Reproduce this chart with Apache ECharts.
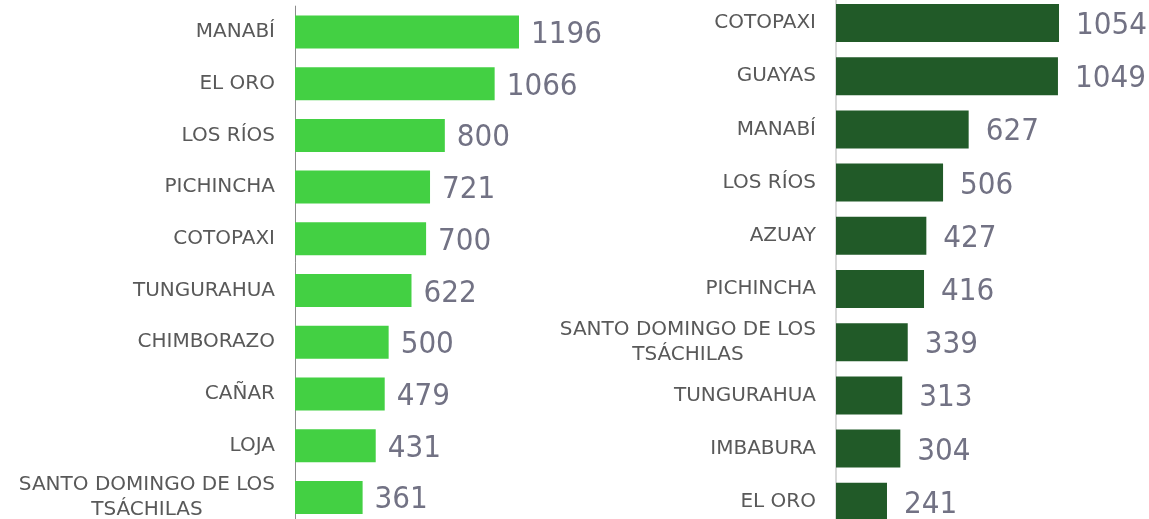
<!DOCTYPE html>
<html>
<head>
<meta charset="utf-8">
<script src="https://cdn.jsdelivr.net/npm/echarts@6/dist/echarts.min.js"></script>
<style>
    html, body { margin: 0; padding: 0; background: #fff; }
    #chart { width: 1149px; height: 519px; }
</style>
</head>
<body>
<div id="chart"></div>
<script>
    // left chart (light green)
    let left_labels = ['MANABÍ', 'EL ORO', 'LOS RÍOS', 'PICHINCHA', 'COTOPAXI', 'TUNGURAHUA',
        'CHIMBORAZO', 'CAÑAR', 'LOJA', 'SANTO DOMINGO DE LOS\nTSÁCHILAS'];
    let left_values = [1196, 1066, 800, 721, 700, 622, 500, 479, 431, 361];

    // right chart (dark green)
    let right_labels = ['COTOPAXI', 'GUAYAS', 'MANABÍ', 'LOS RÍOS', 'AZUAY', 'PICHINCHA',
        'SANTO DOMINGO DE LOS\nTSÁCHILAS', 'TUNGURAHUA', 'IMBABURA', 'EL ORO'];
    let right_values = [1054, 1049, 627, 506, 427, 416, 339, 313, 304, 241];

    let label_font = "'DejaVu Sans', sans-serif";
    let value_font = "'DejaVu Sans Condensed', 'Liberation Sans', sans-serif";

    // every line centred inside the right aligned block
    function centred_label(value){
        return value.split('\n').map(function(line){
            return '{c|' + line + '}';
        }).join('\n');
    }

    function category_axis(index, labels, line_color, line_width){
        return {
            type: 'category',
            gridIndex: index,
            data: labels,
            inverse: true,
            axisTick: {show: false},
            axisLine: {lineStyle: {color: line_color, width: line_width}},
            axisLabel: {
                margin: 20,
                formatter: centred_label,
                rich: {
                    c: {
                        align: 'center',
                        fontFamily: label_font,
                        fontSize: 20,
                        color: '#595959',
                        lineHeight: 25
                    }
                }
            }
        };
    }

    function bar_series(index, values, color, bar_width, distance){
        return {
            type: 'bar',
            xAxisIndex: index,
            yAxisIndex: index,
            data: values,
            barWidth: bar_width,
            itemStyle: {color: color},
            label: {
                show: true,
                position: 'right',
                distance: distance,
                offset: [0, 3],
                fontFamily: value_font,
                fontSize: 31,
                color: '#727284'
            },
            silent: true
        };
    }

    let chart = echarts.init(document.getElementById('chart'));
    chart.setOption({
        animation: false,
        grid: [
            {left: 295, top: 6.1, width: 262.2, height: 517.2, outerBoundsMode: 'none'},
            {left: 836, top: -3.6, width: 253.9, height: 532, outerBoundsMode: 'none'}
        ],
        xAxis: [
            {type: 'value', gridIndex: 0, min: 0, max: 1400, show: false},
            {type: 'value', gridIndex: 1, min: 0, max: 1200, show: false}
        ],
        yAxis: [
            category_axis(0, left_labels, '#8c8c8c', 1),
            category_axis(1, right_labels, '#d9d9d9', 2)
        ],
        series: [
            bar_series(0, left_values, '#43d043', 33, 12),
            bar_series(1, right_values, '#215a28', 38, 17)
        ]
    });
</script>
</body>
</html>
